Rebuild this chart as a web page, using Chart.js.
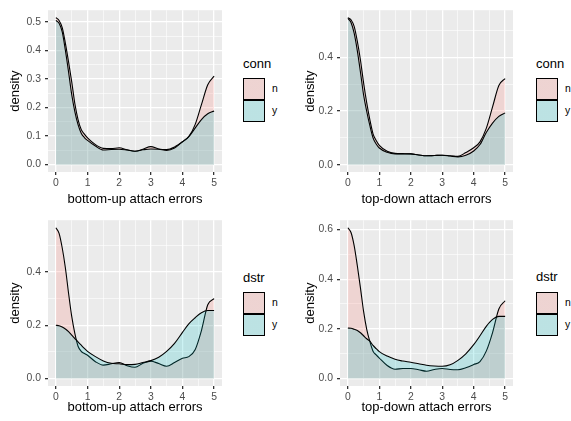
<!DOCTYPE html>
<html>
<head>
<meta charset="UTF-8">
<title>attach errors density</title>
<script src="https://cdn.jsdelivr.net/npm/chart.js"></script>
<style>
  body { margin:0; width:571px; height:421px; background:#fff; position:relative; overflow:hidden;
         font-family:"Liberation Sans", Arial, sans-serif; }
  canvas { position:absolute; }
  .lt { position:absolute; font-size:13px; line-height:15px; color:#000; }
  .key { position:absolute; width:22px; height:22px; box-sizing:border-box; border:1px solid #000; }
  .kl { position:absolute; font-size:10.4px; line-height:12px; color:#000; }
</style>
</head>
<body>
<script>
  const xs = [0, 0.1, 0.2, 0.3, 0.4, 0.5, 0.6, 0.7, 0.8, 0.9, 1, 1.25, 1.5, 1.75, 2, 2.25, 2.5, 2.75, 3, 3.25, 3.5, 3.75, 4, 4.2, 4.4, 4.6, 4.8, 5];

  const bottomConnN = [0.515, 0.505, 0.48, 0.425, 0.36, 0.29, 0.213, 0.158, 0.123, 0.107, 0.094, 0.07, 0.057, 0.056, 0.059, 0.052, 0.047, 0.054, 0.063, 0.055, 0.053, 0.062, 0.08, 0.098, 0.14, 0.21, 0.28, 0.31];
  const bottomConnY = [0.505, 0.495, 0.465, 0.4, 0.325, 0.245, 0.185, 0.14, 0.11, 0.095, 0.085, 0.065, 0.051, 0.053, 0.054, 0.051, 0.047, 0.052, 0.055, 0.054, 0.05, 0.058, 0.08, 0.098, 0.128, 0.158, 0.178, 0.188];

  const topConnN = [0.548, 0.54, 0.515, 0.46, 0.39, 0.305, 0.23, 0.167, 0.115, 0.09, 0.072, 0.05, 0.042, 0.041, 0.04, 0.036, 0.033, 0.034, 0.035, 0.033, 0.031, 0.045, 0.063, 0.085, 0.135, 0.215, 0.295, 0.321];
  const topConnY = [0.545, 0.53, 0.49, 0.425, 0.345, 0.26, 0.198, 0.145, 0.1, 0.077, 0.062, 0.046, 0.04, 0.04, 0.04, 0.036, 0.033, 0.034, 0.035, 0.032, 0.029, 0.035, 0.051, 0.075, 0.12, 0.155, 0.18, 0.193];

  const bottomDstrN = [0.566, 0.545, 0.49, 0.415, 0.32, 0.233, 0.168, 0.121, 0.102, 0.094, 0.087, 0.063, 0.05, 0.055, 0.06, 0.048, 0.042, 0.057, 0.065, 0.056, 0.046, 0.06, 0.076, 0.082, 0.108, 0.18, 0.277, 0.3];
  const bottomDstrY = [0.2, 0.198, 0.193, 0.186, 0.176, 0.163, 0.15, 0.137, 0.125, 0.113, 0.102, 0.082, 0.066, 0.057, 0.055, 0.052, 0.053, 0.06, 0.067, 0.08, 0.102, 0.132, 0.173, 0.205, 0.228, 0.247, 0.255, 0.255];

  const topDstrN = [0.607, 0.588, 0.535, 0.455, 0.365, 0.27, 0.198, 0.148, 0.11, 0.095, 0.082, 0.052, 0.037, 0.04, 0.04, 0.035, 0.029, 0.036, 0.04, 0.036, 0.035, 0.043, 0.056, 0.068, 0.11, 0.185, 0.28, 0.313];
  const topDstrY = [0.203, 0.202, 0.198, 0.193, 0.184, 0.172, 0.16, 0.15, 0.133, 0.12, 0.108, 0.09, 0.077, 0.07, 0.065, 0.059, 0.053, 0.05, 0.049, 0.055, 0.073, 0.099, 0.136, 0.172, 0.21, 0.238, 0.25, 0.25];

  const groups = ['n', 'y'];
  const xTicks = [0, 1, 2, 3, 4, 5];
  const yTicksA = [0, 0.1, 0.2, 0.3, 0.4, 0.5];
  const yTicksB = [0, 0.2, 0.4];
  const yTicksC = [0, 0.2, 0.4, 0.6];

  const fills = ['rgba(248,118,109,0.2)', 'rgba(0,191,196,0.2)'];

  const bgPlugin = {
    id: 'panelbg',
    beforeDraw(chart) {
      const { ctx, chartArea: a } = chart;
      ctx.save();
      ctx.fillStyle = '#EBEBEB';
      ctx.fillRect(a.left, a.top, a.right - a.left, a.bottom - a.top);
      ctx.restore();
    }
  };

  const near = (a, b) => Math.abs(a - b) < 1e-6;

  function makePanel(p) {
    const cv = document.createElement('canvas');
    cv.width = p.w; cv.height = p.h;
    cv.style.left = p.left + 'px'; cv.style.top = p.top + 'px';
    document.body.appendChild(cv);
    const [pl, pt, pr, pb] = p.plot;

    const xAll = [];
    xTicks.forEach((t, i) => { xAll.push(t); if (i < xTicks.length - 1) xAll.push(t + 0.5); });
    const ys = p.yTicks[1] - p.yTicks[0];
    const yAll = [];
    p.yTicks.forEach(t => { yAll.push(t); if (t + ys / 2 < p.yMax) yAll.push(t + ys / 2); });
    const isMajX = v => xTicks.some(t => near(t, v));
    const isMajY = v => p.yTicks.some(t => near(t, v));

    const series = [p.n, p.y];
    new Chart(cv.getContext('2d'), {
      type: 'line',
      data: {
        datasets: series.map((s, k) => ({
          label: groups[k],
          data: xs.map((x, i) => ({ x: x, y: s[i] })),
          borderColor: '#000',
          borderWidth: 1.1,
          backgroundColor: fills[k],
          fill: 'origin',
          pointRadius: 0,
          cubicInterpolationMode: 'monotone',
          order: 2 - k
        }))
      },
      options: {
        responsive: false,
        animation: false,
        events: [],
        layout: { padding: { left: 0, top: pt - p.top, right: p.left + p.w - pr, bottom: 0 } },
        plugins: { legend: { display: false }, tooltip: { enabled: false } },
        scales: {
          x: {
            type: 'linear', min: -0.25, max: 5.25,
            afterBuildTicks: s => { s.ticks = xAll.map(v => ({ value: v })); },
            afterFit: s => { s.height = p.top + p.h - pb; },
            border: { display: false },
            grid: {
              color: '#fff',
              lineWidth: c => isMajX(c.tick.value) ? 1.3 : 0.6,
              tickColor: c => isMajX(c.tick.value) ? '#333' : 'rgba(0,0,0,0)',
              tickLength: 3
            },
            ticks: {
              autoSkip: false, maxRotation: 0, padding: 2,
              color: '#4D4D4D', font: { family: 'Liberation Sans', size: 10.4 },
              callback: v => isMajX(v) ? String(v) : ''
            },
            title: {
              display: true, text: p.xTitle, color: '#000',
              font: { family: 'Liberation Sans', size: 13 },
              padding: { top: 0, bottom: p.top + p.h - p.xTitleY - 7.8 }
            }
          },
          y: {
            type: 'linear', min: p.yMin, max: p.yMax,
            afterBuildTicks: s => { s.ticks = yAll.map(v => ({ value: v })); },
            afterFit: s => { s.width = pl - p.left; },
            border: { display: false },
            grid: {
              color: '#fff',
              lineWidth: c => isMajY(c.tick.value) ? 1.3 : 0.6,
              tickColor: c => isMajY(c.tick.value) ? '#333' : 'rgba(0,0,0,0)',
              tickLength: 3
            },
            ticks: {
              autoSkip: false, padding: 4,
              color: '#4D4D4D', font: { family: 'Liberation Sans', size: 10.4 },
              callback: v => isMajY(v) ? v.toFixed(1) : ''
            },
            title: {
              display: true, text: 'density', color: '#000',
              font: { family: 'Liberation Sans', size: 13 },
              padding: { top: p.yTitleX - p.left - 7.8, bottom: 0 }
            }
          }
        }
      },
      plugins: [bgPlugin]
    });

    // ggplot-style legend on the right
    const lg = p.legend;
    const t = document.createElement('div');
    t.className = 'lt';
    t.textContent = p.legendTitle;
    t.style.left = lg.x + 'px'; t.style.top = (lg.titleY - 7.5) + 'px';
    document.body.appendChild(t);
    groups.forEach((g, k) => {
      const b = document.createElement('div');
      b.className = 'key';
      b.style.left = lg.x + 'px'; b.style.top = (lg.keyTop + 22 * k) + 'px';
      b.style.background = 'linear-gradient(' + fills[k] + ',' + fills[k] + '), #EBEBEB';
      document.body.appendChild(b);
      const l = document.createElement('div');
      l.className = 'kl';
      l.textContent = g;
      l.style.left = (lg.x + 29) + 'px'; l.style.top = (lg.keyTop + 22 * k + 11 - 6) + 'px';
      document.body.appendChild(l);
    });
  }

  makePanel({ left: 0, top: 0, w: 232, h: 210, plot: [48, 6, 222, 172], yMin: -0.0258, yMax: 0.5408, yTicks: yTicksA,
    yTitleX: 15, xTitleY: 199, xTitle: 'bottom-up attach errors', n: bottomConnN, y: bottomConnY,
    legendTitle: 'conn', legend: { x: 243, titleY: 63, keyTop: 78 } });
  makePanel({ left: 285, top: 0, w: 235, h: 210, plot: [340, 6, 513, 172], yMin: -0.0274, yMax: 0.5754, yTicks: yTicksB,
    yTitleX: 310, xTitleY: 199, xTitle: 'top-down attach errors', n: topConnN, y: topConnY,
    legendTitle: 'conn', legend: { x: 536, titleY: 63, keyTop: 78 } });
  makePanel({ left: 0, top: 210, w: 232, h: 211, plot: [48, 220, 222, 386], yMin: -0.0283, yMax: 0.5943, yTicks: yTicksB,
    yTitleX: 15, xTitleY: 407, xTitle: 'bottom-up attach errors', n: bottomDstrN, y: bottomDstrY,
    legendTitle: 'dstr', legend: { x: 243, titleY: 277, keyTop: 292 } });
  makePanel({ left: 285, top: 210, w: 235, h: 211, plot: [340, 220, 513, 386], yMin: -0.0304, yMax: 0.6374, yTicks: yTicksC,
    yTitleX: 310, xTitleY: 407, xTitle: 'top-down attach errors', n: topDstrN, y: topDstrY,
    legendTitle: 'dstr', legend: { x: 536, titleY: 276, keyTop: 292 } });
</script>
</body>
</html>
